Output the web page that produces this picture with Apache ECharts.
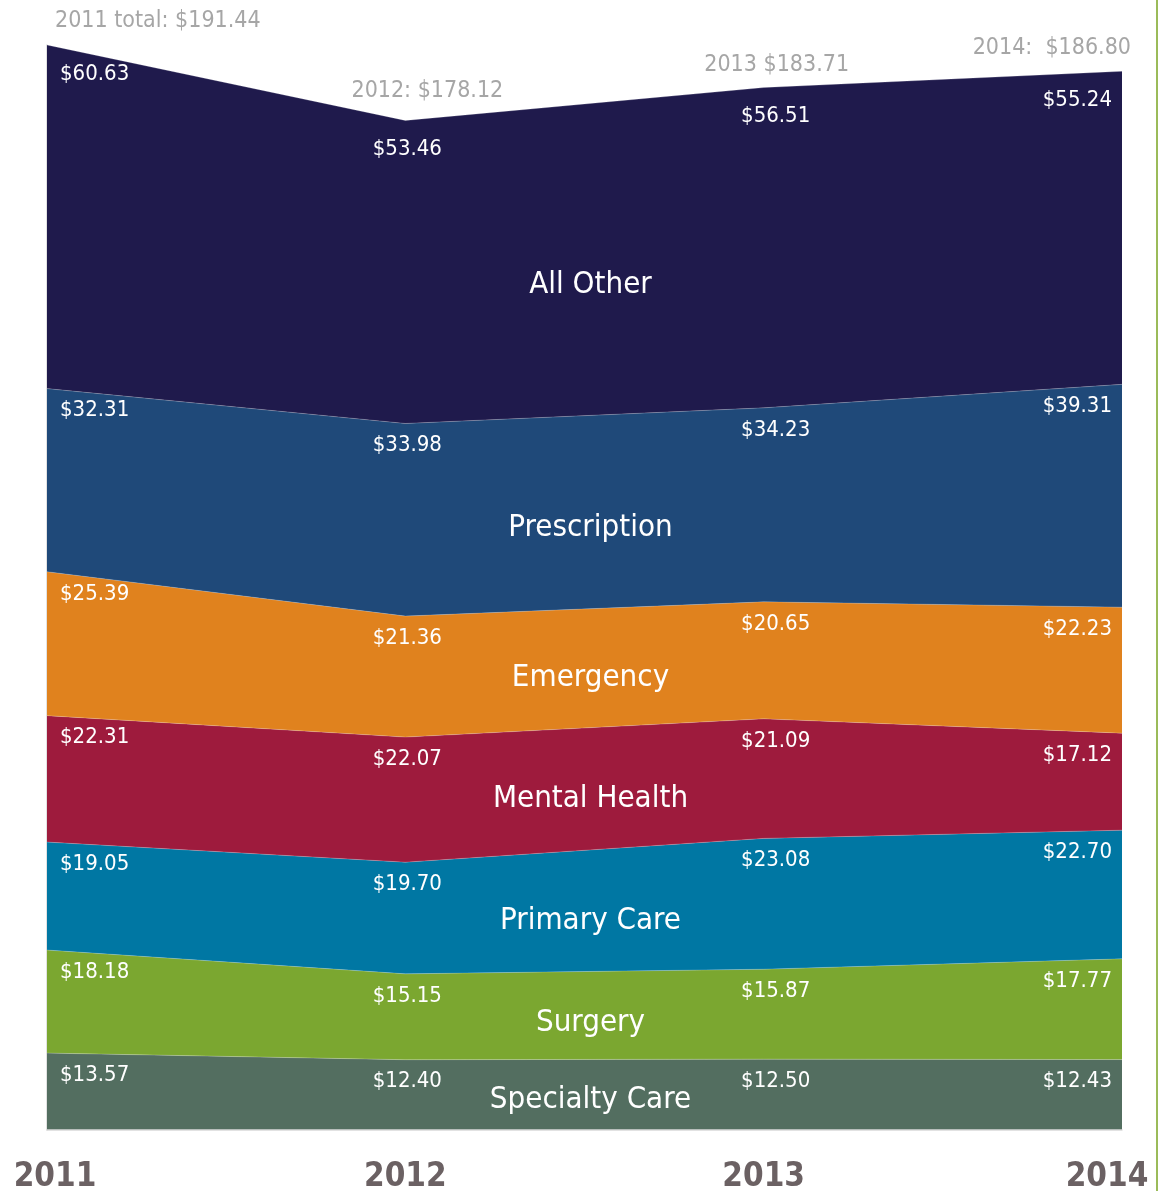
<!DOCTYPE html>
<html lang="en">
  <head>
    <meta charset="utf-8" />
    <script src="https://cdn.jsdelivr.net/npm/echarts@6.0.0/dist/echarts.min.js"></script>
    <style>
      html, body {
        height: 100%;
        padding: 0;
        margin: 0;
        background: #fff;
      }
      #chart {
        width: 1162px;
        height: 1191px;
      }
    </style>
  </head>
  <body>
    <div id="chart"></div>
    <script>
      // data (stack order: bottom first)
      var years = ['2011', '2012', '2013', '2014'];
      var specialtyCare = [13.57, 12.40, 12.50, 12.43];
      var surgery = [18.18, 15.15, 15.87, 17.77];
      var primaryCare = [19.05, 19.70, 23.08, 22.70];
      var mentalHealth = [22.31, 22.07, 21.09, 17.12];
      var emergency = [25.39, 21.36, 20.65, 22.23];
      var prescription = [32.31, 33.98, 34.23, 39.31];
      var allOther = [60.63, 53.46, 56.51, 55.24];
      var totals = [191.44, 178.12, 183.71, 186.80];
      var totalLabels = ['2011 total: $191.44', '2012: $178.12', '2013 $183.71', '2014:  $186.80'];

      var bands = [
        { name: 'Specialty Care', data: specialtyCare, color: '#536e60' },
        { name: 'Surgery', data: surgery, color: '#7ba730' },
        { name: 'Primary Care', data: primaryCare, color: '#0077a3' },
        { name: 'Mental Health', data: mentalHealth, color: '#9e1b3d' },
        { name: 'Emergency', data: emergency, color: '#e0821e' },
        { name: 'Prescription', data: prescription, color: '#1f4979' },
        { name: 'All Other', data: allOther, color: '#1f1a4c' }
      ];

      var font = "'Liberation Sans Narrow', 'DejaVu Sans Condensed', sans-serif";

      // label placement per year column
      var valAlign = ['left', 'center', 'center', 'right'];
      var valOffset = [[13, 0], [2, 0], [12, 0], [-10, 0]];
      var totAlign = ['left', 'center', 'center', 'right'];
      var totOffset = [[8, 0], [22, -6], [13, 0], [9, 0]];
      var yearPad = [[0, 0, 0, 16], 0, 0, [0, 30, 0, 0]];

      var series = [];
      var base = [0, 0, 0, 0];
      bands.forEach(function (b, k) {
        var isTop = k === bands.length - 1;
        series.push({
          name: b.name,
          type: 'line',
          stack: 'total',
          symbol: 'circle',
          symbolSize: 0.1,
          showSymbol: true,
          lineStyle: { width: 0.6, color: 'rgba(255,255,255,0.35)' },
          itemStyle: { color: b.color },
          areaStyle: { color: b.color, opacity: 1 },
          emphasis: { disabled: true },
          data: b.data.map(function (v, i) {
            return {
              value: v,
              label: { align: valAlign[i], offset: valOffset[i] }
            };
          }),
          label: {
            show: true,
            position: 'bottom',
            distance: isTop ? 18 : 11,
            color: '#fff',
            fontFamily: font,
            fontSize: 22,
            formatter: function (p) { return '$' + p.value.toFixed(2); }
          },
          z: 2
        });
        // band name, placed in the middle of the chart inside its band
        var mid = (base[1] + base[2]) / 2 + ((b.data[1] + b.data[2]) / 2) * 0.42;
        series.push({
          name: b.name + ' label',
          type: 'scatter',
          xAxisIndex: 1,
          symbolSize: 0,
          silent: true,
          itemStyle: { opacity: 1 },
          data: [[1.5, mid]],
          label: {
            show: true,
            position: 'inside',
            offset: [6, 0],
            color: '#ffffff',
            opacity: 1,
            fontFamily: font,
            fontSize: 31,
            fontWeight: 'normal',
            formatter: b.name
          },
          z: 5
        });
        base = base.map(function (s, i) { return s + b.data[i]; });
      });

      series.push({
        name: 'totals',
        type: 'scatter',
        symbolSize: 0,
        silent: true,
        itemStyle: { opacity: 1 },
        data: totals.map(function (v, i) {
          return { value: v, label: { align: totAlign[i], offset: totOffset[i] } };
        }),
        label: {
          show: true,
          position: 'top',
          distance: 12,
          color: '#a6a6a6',
          opacity: 1,
          fontFamily: font,
          fontSize: 23,
          formatter: function (p) { return totalLabels[p.dataIndex]; }
        },
        z: 5
      });

      var chart = echarts.init(document.getElementById('chart'));
      chart.setOption({
        animation: false,
        grid: { left: 47, right: 40, top: 45, bottom: 61, containLabel: false, outerBoundsMode: 'none' },
        xAxis: [{
          type: 'category',
          data: years.map(function (y, i) {
            return { value: y, textStyle: { padding: yearPad[i] } };
          }),
          boundaryGap: false,
          axisLine: { show: true, lineStyle: { color: '#d9d9d9', width: 1.5 } },
          axisTick: { show: false },
          axisLabel: {
            color: '#6b6163',
            fontFamily: font,
            fontSize: 33,
            fontWeight: 'bold',
            margin: 31
          },
          z: 10
        }, {
          type: 'value',
          min: 0,
          max: 3,
          show: false
        }],
        yAxis: {
          type: 'value',
          min: 0,
          max: 'dataMax',
          axisLine: { show: true, lineStyle: { color: '#d9d9d9', width: 1.5 } },
          axisLabel: { show: false },
          axisTick: { show: false },
          splitLine: { show: false }
        },
        graphic: [{
          type: 'rect',
          shape: { x: 1156, y: 0, width: 2, height: 1191 },
          style: { fill: '#9bbb59' }
        }],
        series: series
      });
    </script>
  </body>
</html>
